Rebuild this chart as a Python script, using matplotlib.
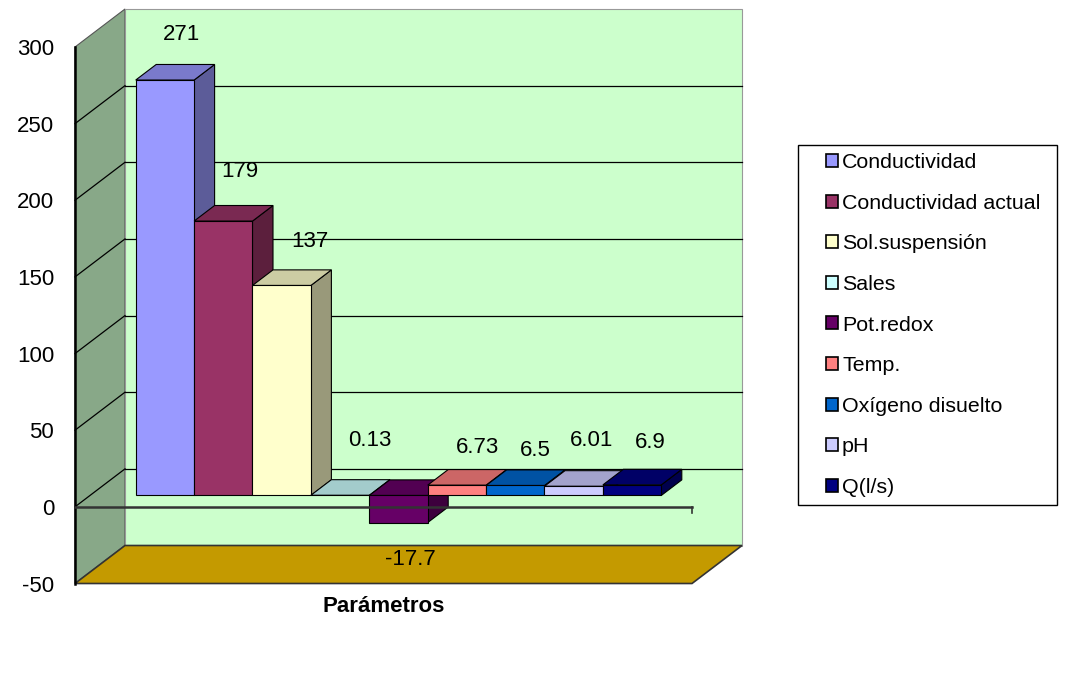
import matplotlib.pyplot as plt
from matplotlib.patches import Polygon, Patch, Rectangle
from matplotlib.colors import to_rgb

plt.rcParams['font.family'] = ['Liberation Sans', 'DejaVu Sans']
plt.rcParams['axes.unicode_minus'] = False

# one category, nine series
category = 'Parámetros'
series = ['Conductividad', 'Conductividad actual', 'Sol.suspensión', 'Sales',
          'Pot.redox', 'Temp.', 'Oxígeno disuelto', 'pH', 'Q(l/s)']
values = [271, 179, 137, 0.13, -17.7, 6.73, 6.5, 6.01, 6.9]
value_labels = ['271', '179', '137', '0.13', '-17.7', '6.73', '6.5', '6.01', '6.9']
y_ticks = [-50, 0, 50, 100, 150, 200, 250, 300]

colors = ['#9999FF', '#993366', '#FFFFCC', '#CCFFFF', '#660066',
          '#FF8080', '#0066CC', '#CCCCFF', '#000080']
# where each value label sits relative to its bar end (pixels)
nudges = [(7, 38), (7, 42), (18, 36), (20, 47), (2, -45),
          (11, 30), (10, 27), (8, 38), (8, 35)]

W, H = 1077, 679
fig = plt.figure(figsize=(W / 100, H / 100), dpi=100)
ax = fig.add_axes([75 / W, 1 - 583.5 / H, 617 / W, 536.5 / H])

YMIN, YMAX = y_ticks[0], y_ticks[-1]
bar_px = 58.4
XMAX = 617 / bar_px
X0 = (XMAX - len(values)) / 2
DX = 50 / bar_px                       # depth shift, x units
DY = 38 * (YMAX - YMIN) / 536.5        # depth shift, value units
Z0, Z1 = 0.3, 0.71                     # bar depth range


def proj(x, y, z):
    return (x + z * DX, y + z * DY)


def shade(col, f):
    return tuple(c * f for c in to_rgb(col))


def face(pts, color, zorder, ec='black', lw=0.8):
    ax.add_patch(Polygon([proj(*p) for p in pts], closed=True, facecolor=color,
                         edgecolor=ec, linewidth=lw, clip_on=False, zorder=zorder))


# walls and floor
face([(0, YMIN, 0), (0, YMAX, 0), (0, YMAX, 1), (0, YMIN, 1)], '#88A888', 1, ec='#555555')
face([(0, YMIN, 1), (XMAX, YMIN, 1), (XMAX, YMAX, 1), (0, YMAX, 1)], '#CCFFCC', 1, ec='#999999')
face([(0, YMIN, 0), (XMAX, YMIN, 0), (XMAX, YMIN, 1), (0, YMIN, 1)], '#C49A00', 1, ec='#333333', lw=1.2)

for v in y_ticks:
    if YMIN < v < YMAX:
        xs, ys = zip(proj(0, v, 1), proj(XMAX, v, 1))
        ax.plot(xs, ys, color='black', lw=0.9, zorder=2, clip_on=False)
        xs, ys = zip(proj(0, v, 0), proj(0, v, 1))
        ax.plot(xs, ys, color='black', lw=0.9, zorder=2, clip_on=False)

# value axis line on the front edge of the side wall
ax.plot([0, 0], [YMIN, YMAX], color='black', lw=1.8, zorder=2, clip_on=False)

# bars, left to right so each front covers the previous side
for i, (v, c) in enumerate(zip(values, colors)):
    x0, x1 = X0 + i, X0 + i + 1
    lo, hi = min(0, v), max(0, v)
    face([(x1, lo, Z0), (x1, hi, Z0), (x1, hi, Z1), (x1, lo, Z1)], shade(c, 0.6), 3)
    face([(x0, hi, Z0), (x1, hi, Z0), (x1, hi, Z1), (x0, hi, Z1)], shade(c, 0.8), 3)
    face([(x0, lo, Z0), (x1, lo, Z0), (x1, hi, Z0), (x0, hi, Z0)], c, 3)

# category axis at zero
ax.plot([0, XMAX], [0, 0], color='#333333', lw=1.8, zorder=5, clip_on=False)
ax.plot([XMAX, XMAX], [0, -4], color='#333333', lw=1.2, zorder=5, clip_on=False)

# value labels
for i, (v, lbl, (dx, dy)) in enumerate(zip(values, value_labels, nudges)):
    ax.annotate(lbl, xy=proj(X0 + i + 0.5, v, 0.5), xytext=(dx, dy),
                textcoords='offset pixels', ha='center', va='center',
                fontsize=16, zorder=6, annotation_clip=False)

ax.set_xlim(0, XMAX)
ax.set_ylim(YMIN, YMAX)
ax.set_yticks(y_ticks)
ax.set_xticks([])
ax.tick_params(axis='y', length=0, pad=15, labelsize=16)
ax.set_xlabel(category, fontsize=16, fontweight='bold', labelpad=9)
ax.set_facecolor('none')
for s in ax.spines.values():
    s.set_visible(False)

handles = [Patch(facecolor=c, edgecolor='black', linewidth=1.2) for c in colors]
ax.legend(handles, series, loc='center left', bbox_to_anchor=(826 / W, 1 - 325 / H),
          bbox_transform=fig.transFigure, frameon=False, fontsize=15.4,
          handlelength=0.56, handleheight=0.56, handletextpad=0.19,
          labelspacing=1.01, borderpad=0, borderaxespad=0)
fig.patches.append(Rectangle((798 / W, 1 - 505 / H), 259 / W, 360 / H,
                             transform=fig.transFigure, fill=False,
                             edgecolor='black', linewidth=1))

fig.savefig('out.png', dpi=100)
